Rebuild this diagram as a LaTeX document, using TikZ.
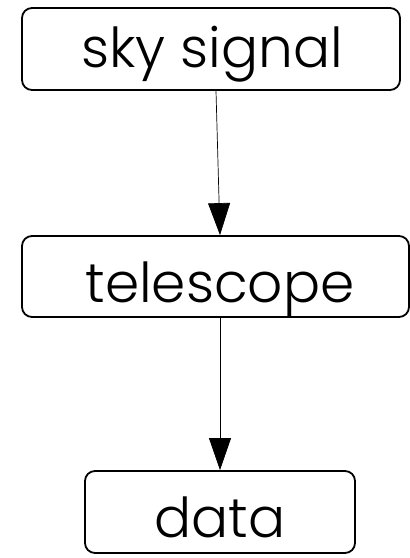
\documentclass[tikz,border=0pt]{standalone}
\usepackage{fontspec}
\setmainfont{Poppins Light}
\usetikzlibrary{arrows.meta}
\tikzset{
  box/.style={draw, line width=1.8pt, rounded corners=10pt, inner sep=0pt, font=\fontsize{55}{66}\selectfont},
  arr/.style={line width=0.7pt, -{Triangle[length=32pt,width=22pt]}}
}
\begin{document}
\begin{tikzpicture}[x=1pt,y=-1pt]
\useasboundingbox (0,0) rectangle (410,558);
\node[box, minimum width=378pt, minimum height=82pt, text height=46pt, text depth=10pt] (b1) at (211,49) {\hspace{2pt}sky signal};
\node[box, minimum width=387pt, minimum height=81pt, text height=56pt, text depth=5pt] (b2) at (215.5,276.5) {\hspace{9pt}telescope};
\node[box, minimum width=270pt, minimum height=82pt, text height=56pt, text depth=5pt] (b3) at (220,512) {data};
\draw[arr] ([xshift=5pt]b1.south) -- ([xshift=4.5pt]b2.north);
\draw[arr] ([xshift=4.5pt]b2.south) -- (b3.north);
\end{tikzpicture}
\end{document}
